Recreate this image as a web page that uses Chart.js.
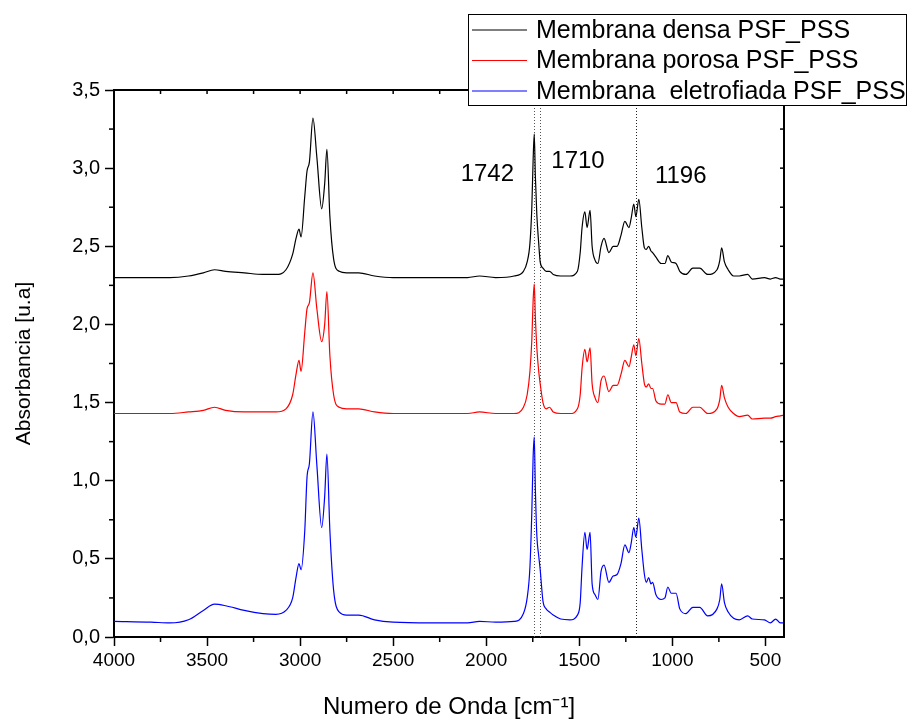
<!DOCTYPE html>
<html lang="pt">
<head>
<meta charset="UTF-8">
<title>FTIR Membranas PSF_PSS</title>
<script src="https://cdn.jsdelivr.net/npm/chart.js"></script>
<style>
  html, body { margin: 0; padding: 0; background: #fff; }
  #wrap { width: 909px; height: 722px; }
</style>
</head>
<body>
<div id="wrap"><canvas id="ftir" width="909" height="722"></canvas></div>
<script>
// wavenumber grid (cm-1), shared by the three spectra
const wavenumber = [
  4000, 3800, 3700, 3600, 3520, 3460, 3400, 3300, 3200, 3130,
  3076, 3040, 3022, 3006, 2995, 2975, 2963, 2950, 2931, 2910,
  2884, 2868, 2856, 2840, 2820, 2790, 2750, 2685, 2600, 2500,
  2300, 2100, 2036, 1950, 1850, 1800, 1780, 1765, 1755, 1748,
  1742, 1736, 1728, 1718, 1710, 1695, 1678, 1660, 1640, 1600,
  1550, 1510, 1495, 1485, 1470, 1458, 1442, 1431, 1415, 1400,
  1383, 1367, 1341, 1318, 1297, 1276, 1255, 1233, 1221, 1207,
  1196, 1180, 1164, 1150, 1140, 1127, 1115, 1106, 1088, 1060,
  1040, 1024, 1006, 980, 960, 927, 890, 853, 810, 760,
  745, 735, 720, 700, 671, 640, 595, 570, 505, 473,
  445, 420, 400
];

const densa = [
  2.30, 2.30, 2.30, 2.31, 2.33, 2.35, 2.34, 2.33, 2.32, 2.32,
  2.35, 2.45, 2.55, 2.61, 2.56, 2.82, 2.98, 3.04, 3.32, 3.07,
  2.74, 2.90, 3.12, 2.69, 2.42, 2.34, 2.33, 2.33, 2.31, 2.30,
  2.30, 2.30, 2.31, 2.30, 2.31, 2.34, 2.40, 2.52, 2.75, 3.05,
  3.22, 2.95, 2.70, 2.52, 2.40, 2.36, 2.34, 2.34, 2.32, 2.31,
  2.31, 2.34, 2.46, 2.62, 2.72, 2.62, 2.73, 2.50, 2.41, 2.39,
  2.50, 2.55, 2.46, 2.50, 2.50, 2.57, 2.66, 2.62, 2.68, 2.77,
  2.69, 2.80, 2.62, 2.49, 2.48, 2.50, 2.47, 2.46, 2.43, 2.39,
  2.39, 2.44, 2.40, 2.39, 2.34, 2.32, 2.36, 2.36, 2.32, 2.35,
  2.41, 2.49, 2.40, 2.35, 2.31, 2.31, 2.32, 2.29, 2.30, 2.29,
  2.30, 2.29, 2.29
];

const porosa = [
  1.43, 1.43, 1.43, 1.44, 1.45, 1.47, 1.45, 1.44, 1.44, 1.44,
  1.46, 1.55, 1.68, 1.77, 1.70, 1.95, 2.10, 2.14, 2.33, 2.10,
  1.89, 2.00, 2.21, 1.80, 1.55, 1.47, 1.46, 1.46, 1.44, 1.43,
  1.43, 1.43, 1.44, 1.43, 1.43, 1.47, 1.55, 1.70, 1.90, 2.15,
  2.26, 2.05, 1.85, 1.70, 1.62, 1.50, 1.46, 1.47, 1.44, 1.43,
  1.43, 1.46, 1.55, 1.72, 1.84, 1.76, 1.85, 1.62, 1.53, 1.50,
  1.64, 1.67, 1.57, 1.61, 1.61, 1.68, 1.77, 1.73, 1.79, 1.87,
  1.80, 1.91, 1.75, 1.62, 1.60, 1.62, 1.59, 1.59, 1.51, 1.49,
  1.49, 1.55, 1.50, 1.50, 1.44, 1.43, 1.47, 1.47, 1.43, 1.46,
  1.52, 1.61, 1.53, 1.47, 1.43, 1.41, 1.42, 1.395, 1.40, 1.40,
  1.41, 1.415, 1.42
];

const eletrofiada = [
  0.10, 0.095, 0.09, 0.11, 0.17, 0.21, 0.20, 0.17, 0.15, 0.145,
  0.17, 0.25, 0.38, 0.47, 0.43, 0.68, 1.02, 1.11, 1.44, 1.10,
  0.70, 0.90, 1.17, 0.68, 0.30, 0.16, 0.14, 0.14, 0.11, 0.095,
  0.09, 0.09, 0.10, 0.095, 0.10, 0.15, 0.25, 0.45, 0.80, 1.15,
  1.28, 0.95, 0.65, 0.52, 0.43, 0.23, 0.18, 0.16, 0.14, 0.115,
  0.11, 0.14, 0.22, 0.45, 0.67, 0.56, 0.67, 0.34, 0.27, 0.24,
  0.42, 0.46, 0.35, 0.39, 0.40, 0.47, 0.59, 0.54, 0.60, 0.70,
  0.64, 0.76, 0.56, 0.40, 0.35, 0.38, 0.34, 0.35, 0.27, 0.24,
  0.25, 0.32, 0.28, 0.28, 0.18, 0.15, 0.19, 0.19, 0.135, 0.18,
  0.24, 0.34, 0.22, 0.16, 0.12, 0.11, 0.135, 0.115, 0.11, 0.09,
  0.115, 0.09, 0.09
];

const seriesNames = ['Membrana densa PSF_PSS', 'Membrana porosa PSF_PSS', 'Membrana  eletrofiada PSF_PSS'];
const xTicks = [4000, 3500, 3000, 2500, 2000, 1500, 1000, 500];
const yTicks = [0, 0.5, 1, 1.5, 2, 2.5, 3, 3.5];
const bandLines = [1742, 1710, 1196];
const bandLabels = ['1742', '1710', '1196'];

const FONT = "'Liberation Sans', Arial, sans-serif";
const colors = ['#000000', '#ff0000', '#0000ff'];
// where the band labels sit, in data units (wavenumber, absorbance)
const labelPos = [[1994, 2.96], [1507, 3.045], [955, 2.95]];

const toPoints = ys => wavenumber.map((x, i) => ({ x: x, y: ys[i] }));
const mids = arr => arr.slice(0, -1).map((v, i) => (v + arr[i + 1]) / 2);

const decor = {
  id: 'decor',
  beforeDatasetsDraw(chart) {
    const { ctx, chartArea: a, scales: { x } } = chart;
    ctx.save();
    ctx.lineWidth = 1;
    ctx.setLineDash([1, 2]);
    bandLines.forEach((wn, i) => {
      const px = Math.round(x.getPixelForValue(wn)) + 0.5;
      ctx.strokeStyle = i < 2 ? '#555' : '#222';
      ctx.beginPath();
      ctx.moveTo(px, a.top);
      ctx.lineTo(px, a.bottom);
      ctx.stroke();
    });
    ctx.restore();
  },
  afterDraw(chart) {
    const { ctx, chartArea: a, scales: { x, y } } = chart;
    ctx.save();
    ctx.strokeStyle = '#000';
    ctx.lineWidth = 2;
    // top and right frame
    ctx.beginPath();
    ctx.moveTo(a.left, a.top);
    ctx.lineTo(a.right, a.top);
    ctx.lineTo(a.right, a.bottom);
    ctx.stroke();

    ctx.lineWidth = 1.5;
    // minor ticks outside left / bottom
    mids(yTicks).forEach(v => {
      const py = y.getPixelForValue(v);
      ctx.beginPath(); ctx.moveTo(a.left - 5, py); ctx.lineTo(a.left, py); ctx.stroke();
    });
    mids(xTicks).forEach(v => {
      const px = x.getPixelForValue(v);
      ctx.beginPath(); ctx.moveTo(px, a.bottom); ctx.lineTo(px, a.bottom + 5); ctx.stroke();
    });
    // inward ticks on top and right
    xTicks.concat(mids(xTicks)).forEach(v => {
      const px = x.getPixelForValue(v);
      ctx.beginPath(); ctx.moveTo(px, a.top); ctx.lineTo(px, a.top + 4); ctx.stroke();
    });
    yTicks.concat(mids(yTicks)).forEach(v => {
      const py = y.getPixelForValue(v);
      ctx.beginPath(); ctx.moveTo(a.right - 4, py); ctx.lineTo(a.right, py); ctx.stroke();
    });

    // band labels
    ctx.fillStyle = '#000';
    ctx.font = '24px ' + FONT;
    ctx.textAlign = 'center';
    ctx.textBaseline = 'middle';
    bandLabels.forEach((t, i) => {
      ctx.fillText(t, x.getPixelForValue(labelPos[i][0]), y.getPixelForValue(labelPos[i][1]));
    });

    // legend box
    const bx = 468, by = 14, bw = 439, bh = 92;
    ctx.fillStyle = '#fff';
    ctx.fillRect(bx, by, bw, bh);
    ctx.lineWidth = 1;
    ctx.strokeStyle = '#000';
    ctx.strokeRect(bx + 0.5, by + 0.5, bw - 1, bh - 1);
    ctx.font = '25px ' + FONT;
    ctx.textAlign = 'left';
    chart.data.datasets.forEach((ds, i) => {
      const ry = by + 16 + i * 30.5;
      ctx.strokeStyle = ds.borderColor;
      ctx.lineWidth = 1.2;
      ctx.beginPath(); ctx.moveTo(bx + 4, ry); ctx.lineTo(bx + 59, ry); ctx.stroke();
      ctx.fillStyle = '#000';
      ctx.fillText(ds.label, bx + 68, ry + 1);
    });
    ctx.restore();
  }
};

new Chart(document.getElementById('ftir'), {
  type: 'line',
  data: {
    datasets: [densa, porosa, eletrofiada].map((s, i) => ({
      label: seriesNames[i],
      data: toPoints(s),
      borderColor: colors[i],
      borderWidth: 1.2,
      pointRadius: 0,
      fill: false,
      cubicInterpolationMode: 'monotone'
    }))
  },
  options: {
    responsive: false,
    devicePixelRatio: 1,
    animation: false,
    layout: { padding: { left: 0, top: 90, right: 125, bottom: 0 } },
    plugins: { legend: { display: false }, tooltip: { enabled: false } },
    scales: {
      x: {
        type: 'linear',
        reverse: true,
        min: 400,
        max: 4000,
        afterBuildTicks: s => { s.ticks = xTicks.map(v => ({ value: v })); },
        afterFit: s => { s.height = 85; },
        ticks: {
          color: '#000',
          font: { family: FONT, size: 19 },
          padding: 3,
          maxRotation: 0,
          callback: v => String(v)
        },
        grid: { drawOnChartArea: false, tickLength: 9, tickWidth: 1.5, tickColor: '#000' },
        border: { display: true, color: '#000', width: 2 },
        title: {
          display: true,
          text: 'Numero de Onda [cm\u207B\u00B9]',
          color: '#000',
          font: { family: FONT, size: 24 },
          padding: { top: 0, bottom: 0 }
        }
      },
      y: {
        min: 0,
        max: 3.5,
        afterBuildTicks: s => { s.ticks = yTicks.map(v => ({ value: v })); },
        afterFit: s => { s.width = 114; },
        ticks: {
          color: '#000',
          font: { family: FONT, size: 20 },
          padding: 5,
          callback: v => v.toFixed(1).replace('.', ',')
        },
        grid: { drawOnChartArea: false, tickLength: 9, tickWidth: 1.5, tickColor: '#000' },
        border: { display: true, color: '#000', width: 2 },
        title: {
          display: true,
          text: 'Absorbancia [u.a]',
          color: '#000',
          font: { family: FONT, size: 21 },
          padding: { top: 12, bottom: 0 }
        }
      }
    }
  },
  plugins: [decor]
});
</script>
</body>
</html>
